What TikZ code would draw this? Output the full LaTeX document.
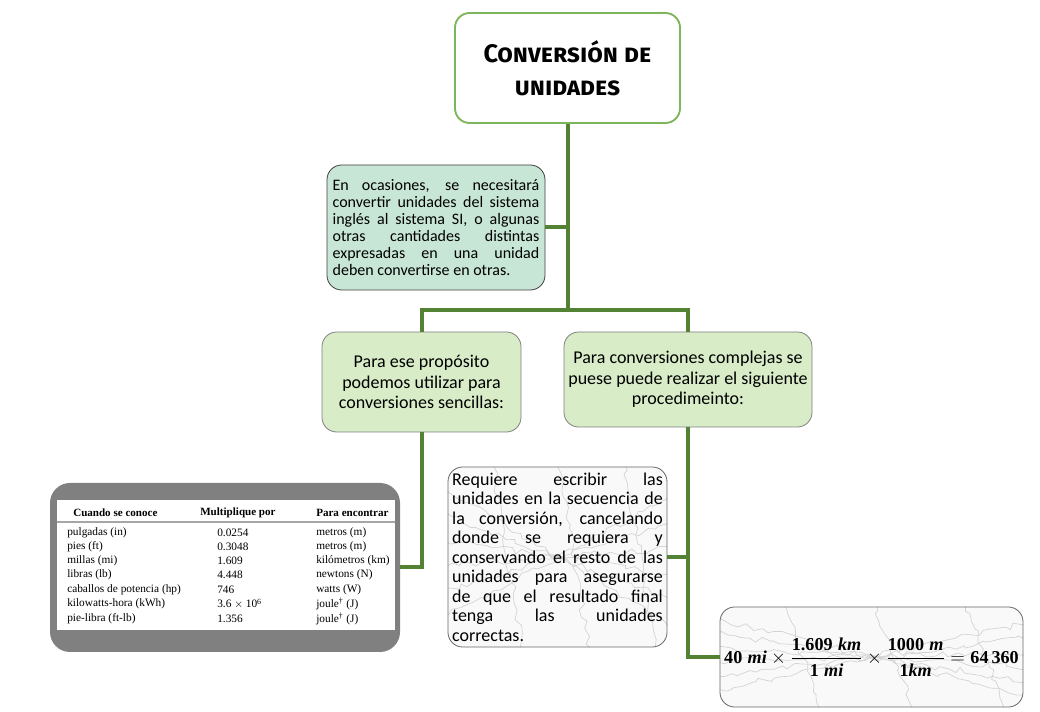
\documentclass[tikz,border=0pt]{standalone}
\usepackage{amsmath}
\usepackage{fontspec}
\usetikzlibrary{backgrounds,decorations.pathmorphing,calc}
\setmainfont{Carlito}
\newfontfamily\tabfont{Liberation Serif}
\newfontfamily\titlefont{Fira Sans}
\newfontfamily\eqfont{Liberation Serif}
\definecolor{titlegreen}{RGB}{125,181,90}
\definecolor{linegreen}{RGB}{84,130,53}
\definecolor{lightgreen}{RGB}{216,236,200}
\definecolor{mint}{RGB}{200,230,214}
\definecolor{tabgray}{RGB}{128,128,128}
\newcommand{\bu}[1]{\text{\eqfont\bfseries\itshape #1}}
\newcommand{\bn}[1]{\text{\eqfont\bfseries #1}}
\begin{document}
\begin{tikzpicture}[x=0.75pt,y=-0.75pt,
  conn/.style={draw=linegreen,line width=3pt},
  titlebox/.style={draw=titlegreen,line width=1.4pt,fill=white,rounded corners=11pt,minimum width=168.75pt,minimum height=82.5pt,align=center,font=\titlefont\bfseries\scshape\fontsize{19}{25}\selectfont},
  greenbox/.style={draw=gray,line width=0.6pt,fill=lightgreen,rounded corners=11pt,align=center,font=\fontsize{13.5}{15.5}\selectfont,inner sep=2pt},
  mintbox/.style={draw=black!75,line width=0.6pt,fill=mint,rounded corners=11pt,minimum width=163.5pt,minimum height=93.75pt,text width=155pt,align=justify,font=\fontsize{12}{12.8}\selectfont,inner sep=3pt},
  marble/.style={draw=black!60,line width=0.6pt,rounded corners=11pt},
  vein/.style={draw=gray!35,line width=0.5pt,decorate,decoration={random steps,segment length=5pt,amplitude=2.5pt}},
  tabtxt/.style={anchor=west,inner sep=0pt,font=\tabfont\fontsize{8.5}{9}\selectfont},
  tabhead/.style={anchor=west,inner sep=0pt,font=\tabfont\bfseries\fontsize{8.3}{9}\selectfont}
]
\useasboundingbox (0,0) rectangle (1040,712);

% nodes
\node[titlebox] (title) at (567.5,68) {Conversión de\\unidades};
\node[mintbox] (intro) at (436,227.5) {En ocasiones, se necesitará\linebreak convertir unidades del sistema\linebreak inglés al sistema SI, o algunas\linebreak otras cantidades distintas\linebreak expresadas en una unidad\linebreak deben convertirse en otras.};
\node[greenbox,minimum width=149.25pt,minimum height=75pt] (simple) at (421.5,382) {Para ese propósito\\podemos utilizar para\\conversiones sencillas:};
\node[greenbox,minimum width=186pt,minimum height=71.25pt] (complex) at (688,379.5) {Para conversiones complejas se\\puese puede realizar el siguiente\\procedimeinto:};
\node[draw=none,fill=tabgray,rounded corners=15pt,minimum width=262.5pt,minimum height=126.75pt] (table) at (225,567.5) {};
\node[marble,minimum width=164.25pt,minimum height=135pt,text width=158pt,align=justify,font=\fontsize{13.5}{14.6}\selectfont,inner sep=2pt] (steps) at (557.5,557) {Requiere escribir las\linebreak unidades en la secuencia de\linebreak la conversión, cancelando\linebreak donde se requiera y\linebreak conservando el resto de las\linebreak unidades para asegurarse\linebreak de que el resultado final\linebreak tenga las unidades\linebreak correctas.};
\node[marble,minimum width=227.25pt,minimum height=75pt,inner sep=1pt,font=\fontsize{13.6}{16}\selectfont] (eq) at (871.5,657) {$\bn{40}\;\bu{mi}\times\dfrac{\bn{1.609}\;\bu{km}}{\bn{1}\;\bu{mi}}\times\dfrac{\bn{1000}\;\bu{m}}{\bn{1}\bu{km}}=\bn{64\,360}$};

% backgrounds and marble texture
\begin{scope}[on background layer]
  \fill[white] (0,0) rectangle (1040,712);
  \pgfmathsetseed{11}
  \foreach \bx in {steps,eq}{
    \begin{scope}
      \clip[rounded corners=11pt] (\bx.south west) rectangle (\bx.north east);
      \fill[gray!5] (\bx.south west) rectangle (\bx.north east);
      \foreach \f in {0.1,0.25,0.4,0.55,0.7,0.85}{
        \draw[vein] ($(\bx.north west)!\f!(\bx.south west)+(-10,0)$) -- ($(\bx.north east)!{1-\f}!(\bx.south east)+(10,0)$);
      }
      \foreach \f in {0.2,0.5,0.8}{
        \draw[vein] ($(\bx.north west)!\f!(\bx.north east)+(0,-10)$) -- ($(\bx.south west)!{\f+0.15}!(\bx.south east)+(0,10)$);
      }
    \end{scope}
  }
\end{scope}

% table content
\fill[white] (57,500) rectangle (395,630);
\draw[gray!70,line width=1pt] (57,522) -- (395,522);
\node[tabhead] (h1) at (73,513) {Cuando se conoce};
\node[tabhead] (h2) at (200,513) {Multiplique por};
\node[tabhead] (h3) at (316,513) {Para encontrar};
\foreach \y/\a/\b/\c in {
  533/pulgadas (in)/0.0254/metros (m),
  547/pies (ft)/0.3048/metros (m),
  561/millas (mi)/1.609/kilómetros (km),
  575/libras (lb)/4.448/newtons (N),
  590/caballos de potencia (hp)/746/watts (W),
  604/kilowatts-hora (kWh)/3.6 \(\times\) 10\textsuperscript{6}/joule\textsuperscript{\dag} (J),
  619/pie-libra (ft-lb)/1.356/joule\textsuperscript{\dag} (J)}{
  \node[tabtxt] at (67,\y) {\a};
  \node[tabtxt] at (217,\y) {\b};
  \node[tabtxt] at (316,\y) {\c};
}

% connectors
\coordinate (junction) at (567.5,310);
\draw[conn] (title.south) -- (junction);
\draw[conn] (intro.east) -- (intro.east -| title.south);
\draw[conn] (simple.north) |- (junction) -| (complex.north);
\draw[conn] (simple.south) |- (table.east);
\draw[conn] (complex.south) |- (eq.west);
\draw[conn] (steps.east) -- (steps.east -| complex.south);
\end{tikzpicture}
\end{document}
